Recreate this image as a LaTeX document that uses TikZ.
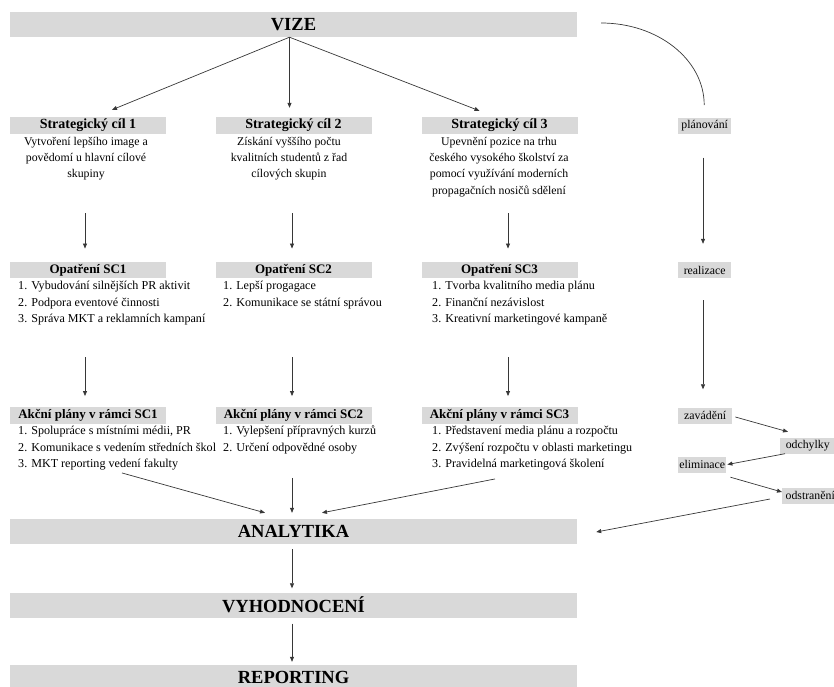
\documentclass[tikz,border=0pt]{standalone}
\usepackage{fontspec}
\setmainfont{Liberation Serif}
\usetikzlibrary{arrows.meta,calc}
\definecolor{barfill}{RGB}{217,217,217}
\definecolor{linegray}{RGB}{55,55,55}
\newcommand\txtsize{\fontsize{11.8}{16.2}\selectfont}
\newcommand\itemsize{\fontsize{12.1}{16.4}\selectfont}
\begin{document}
\begin{tikzpicture}[x=1pt,y=-1pt,
  bigbar/.style={fill=barfill, minimum width=567pt, minimum height=25pt, inner sep=0pt,
    font=\fontsize{18.5}{20}\selectfont\bfseries},
  headbar/.style={fill=barfill, minimum width=156pt, minimum height=16.5pt, inner sep=0pt,
    font=\fontsize{13}{15}\selectfont\bfseries},
  goalbar/.style={headbar, minimum height=17pt, font=\fontsize{14}{16}\selectfont\bfseries},
  desc/.style={anchor=north, align=center, inner sep=0pt, font=\txtsize},
  items/.style={anchor=north west, align=left, inner sep=0pt, font=\itemsize},
  lab/.style={fill=barfill, anchor=west, inner xsep=1pt, inner ysep=0pt,
    minimum height=16pt, font=\txtsize},
  link/.style={draw=linegray, line width=0.7pt},
  arr/.style={link, -{Triangle[length=5pt,width=4pt]}}
]
\path[use as bounding box] (0,0) rectangle (834,686);
\clip (0,0) rectangle (834,686);

% column guides for the vertical connectors
\coordinate (c1) at (85,0);
\coordinate (c2) at (292,0);
\coordinate (c3) at (508,0);
\coordinate (c4) at (703,0);

% main stages
\node[bigbar] (vize) at (293.5,24.5) {VIZE};
\node[bigbar] (ana) at (293.5,531.5) {ANALYTIKA};
\node[bigbar] (vyh) at (293.5,605) {VYHODNOCENÍ};
\node[bigbar] (rep) at (293.5,677.5) {REPORTING};

% strategic goals
\node[goalbar] (h1) at (88,125.5) {Strategický cíl 1};
\node[goalbar] (h2) at (293.5,125.5) {Strategický cíl 2};
\node[goalbar] (h3) at (499.5,125.5) {Strategický cíl 3};
\node[desc] (d1) at (86,137) {Vytvoření lepšího image a\\povědomí u hlavní cílové\\skupiny};
\node[desc] (d2) at (289,137) {Získání vyššího počtu\\kvalitních studentů z řad\\cílových skupin};
\node[desc] (d3) at (499,137) {Upevnění pozice na trhu\\českého vysokého školství za\\pomocí využívání moderních\\propagačních nosičů sdělení};

% measures
\node[headbar] (o1) at (88,270) {Opatření SC1};
\node[headbar] (o2) at (293.5,270) {Opatření SC2};
\node[headbar] (o3) at (499.5,270) {Opatření SC3};
\node[items] (l1) at (18,281) {1. Vybudování silnějších PR aktivit\\2. Podpora eventové činnosti\\3. Správa MKT a reklamních kampaní};
\node[items] (l2) at (223,281) {1. Lepší progagace\\2. Komunikace se státní správou};
\node[items] (l3) at (432,281) {1. Tvorba kvalitního media plánu\\2. Finanční nezávislost\\3. Kreativní marketingové kampaně};

% action plans
\node[headbar] (a1) at (88,415.5) {Akční plány v rámci SC1};
\node[headbar] (a2) at (293.5,415.5) {Akční plány v rámci SC2};
\node[headbar] (a3) at (499.5,415.5) {Akční plány v rámci SC3};
\node[items] (p1) at (18,426) {1. Spolupráce s místními médii, PR\\2. Komunikace s vedením středních škol\\3. MKT reporting vedení fakulty};
\node[items] (p2) at (223,426) {1. Vylepšení přípravných kurzů\\2. Určení odpovědné osoby};
\node[items] (p3) at (432,426) {1. Představení media plánu a rozpočtu\\2. Zvýšení rozpočtu v oblasti marketingu\\3. Pravidelná marketingová školení};

% process cycle on the right
\node[lab, minimum width=53pt] (plan) at (678,125.5) {plánování};
\node[lab, minimum width=53pt] (real) at (678,270) {realizace};
\node[lab, minimum width=54pt] (zav) at (678,415.5) {zavádění};
\node[lab, minimum width=55pt] (odch) at (780,445.5) {odchylky};
\node[lab, minimum width=48pt] (elim) at (678,464.5) {eliminace};
\node[lab, minimum width=56pt] (odst) at (782,495.5) {odstranění};

% vision to goals
\draw[arr] ([xshift=-4pt]vize.south) -- ($(h1.north)+(24,-7)$);
\draw[arr] ([xshift=-4pt]vize.south) -- ($(h2.north)+(-4,-9)$);
\draw[arr] ([xshift=-4pt]vize.south) -- ($(h3.north)+(-20,-6)$);

% goals to measures
\draw[arr] ($(h1.south -| c1)+(0,79)$) -- ($(o1.north -| c1)+(0,-13)$);
\draw[arr] ($(h2.south -| c2)+(0,79)$) -- ($(o2.north -| c2)+(0,-13)$);
\draw[arr] ($(h3.south -| c3)+(0,79)$) -- ($(o3.north -| c3)+(0,-13)$);

% measures to action plans
\draw[arr] ($(o1.south -| c1)+(0,79)$) -- ($(a1.north -| c1)+(0,-11)$);
\draw[arr] ($(o2.south -| c2)+(0,79)$) -- ($(a2.north -| c2)+(0,-11)$);
\draw[arr] ($(o3.south -| c3)+(0,79)$) -- ($(a3.north -| c3)+(0,-11)$);

% action plans to analytics
\draw[arr] ($(a1.south)+(34,49)$) -- ($(ana.north)+(-28.5,-6)$);
\draw[arr] ($(a2.south -| c2)+(0,54)$) -- ($(ana.north -| c2)+(0,-6)$);
\draw[arr] ($(a3.south)+(-4.5,55)$) -- ($(ana.north)+(28.5,-6)$);

% analytics, evaluation, reporting
\draw[arr] ($(ana.south -| c2)+(0,5)$) -- ($(vyh.north -| c2)+(0,-4)$);
\draw[arr] ($(vyh.south -| c2)+(0,6)$) -- ($(rep.north -| c2)+(0,-3)$);

% cycle connectors
\draw[link] ($(vize.east)+(24,-1.5)$) arc[start angle=270, end angle=360, x radius=103, y radius=82];
\draw[arr] ($(plan.south -| c4)+(0,24)$) -- ($(real.north -| c4)+(0,-18)$);
\draw[arr] ($(real.south -| c4)+(0,22)$) -- ($(zav.north -| c4)+(0,-18)$);
\draw[arr] ($(zav.east)+(3,1.5)$) -- ($(odch.north west)+(8,-5.5)$);
\draw[arr] ($(odch.south west)+(5,0)$) -- ($(elim.east)+(1,0)$);
\draw[arr] ($(elim.south east)+(4,4.5)$) -- ($(odst.west)+(0,-3.5)$);
\draw[arr] ($(odst.west)+(-12,3.5)$) -- ($(ana.east)+(19,0.5)$);
\end{tikzpicture}
\end{document}
